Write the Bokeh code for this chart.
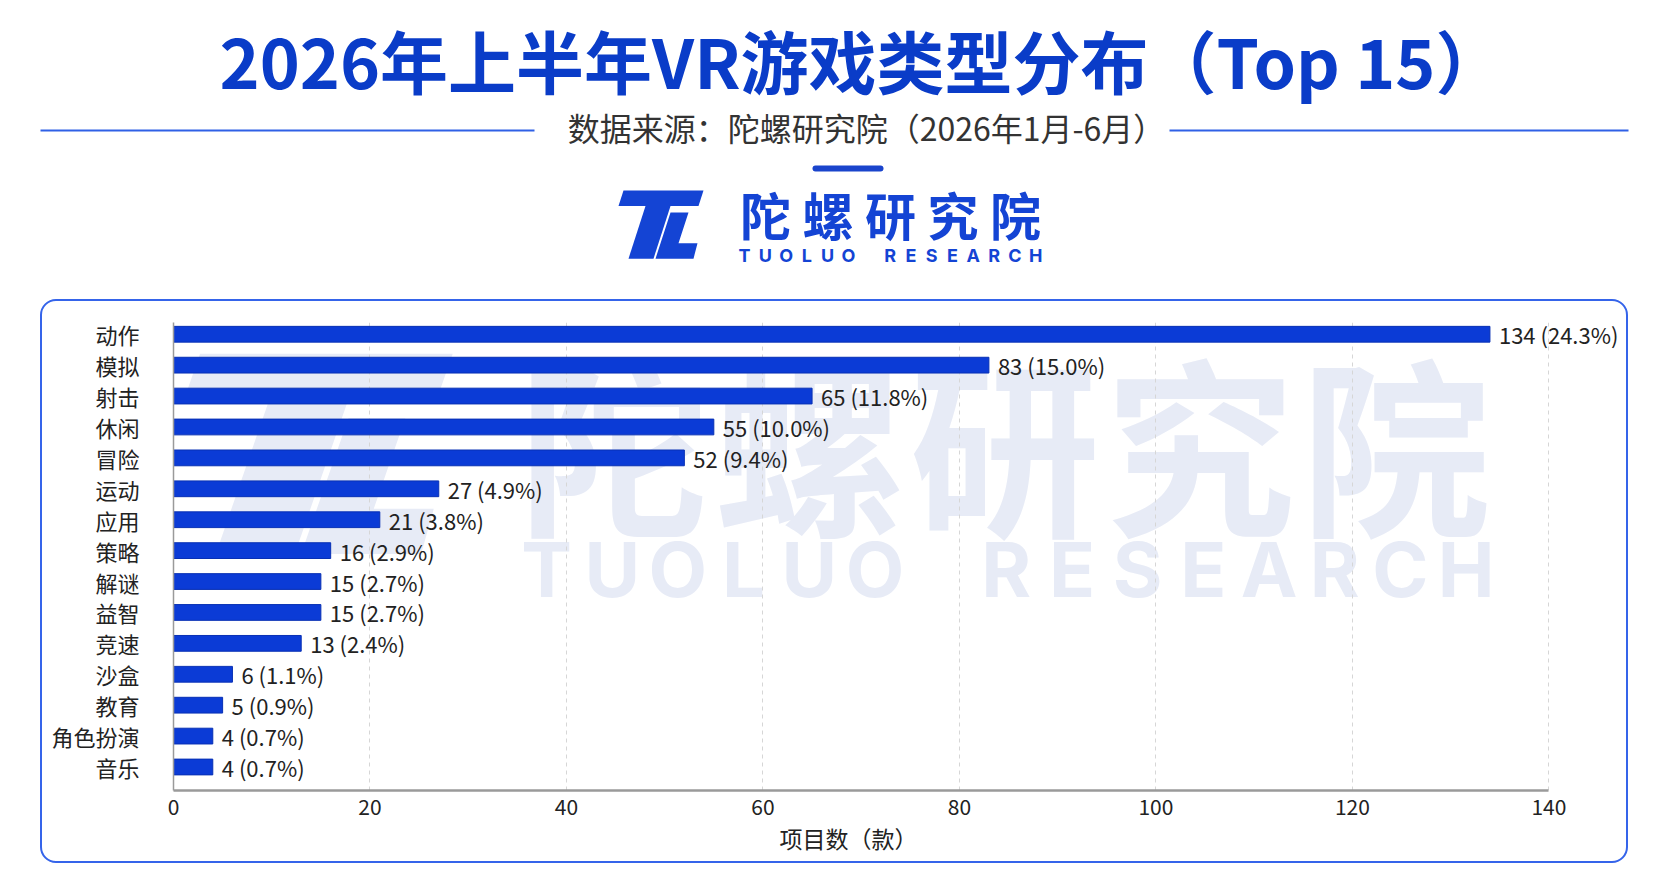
from bokeh.plotting import figure
from bokeh.models import Range1d, FixedTicker, ColumnDataSource, Spacer, Title
from bokeh.layouts import column, row
from bokeh.core.properties import value
from bokeh.embed import file_html
from bokeh.resources import INLINE

# ---------------- data ----------------
CATEGORIES = ["动作", "模拟", "射击", "休闲", "冒险", "运动", "应用", "策略",
              "解谜", "益智", "竞速", "沙盒", "教育", "角色扮演", "音乐"]
COUNTS = [134, 83, 65, 55, 52, 27, 21, 16, 15, 15, 13, 6, 5, 4, 4]
PCTS = [24.3, 15.0, 11.8, 10.0, 9.4, 4.9, 3.8, 2.9, 2.7, 2.7, 2.4, 1.1, 0.9, 0.7, 0.7]
X_TICKS = [0, 20, 40, 60, 80, 100, 120, 140]
TITLE = "2026年上半年VR游戏类型分布（Top 15）"
SUBTITLE = "数据来源：陀螺研究院（2026年1月-6月）"
X_LABEL = "项目数（款）"
BRAND_CN = "陀螺研究院"
BRAND_EN = "TUOLUO RESEARCH"

# ---------------- style ----------------
CJK = "Noto Sans CJK SC"
LATIN = "Inter"
TITLE_BLUE = "#0a3cc8"
BAR_BLUE = "#0b3bd6"
BAR_EDGE = "#0830b4"
LINE_BLUE = "#2f60e6"
LOGO_BLUE = "#1444d4"
WM = "#e7ebf6"
TXT = "#222222"

# decorative TL logo outline (unit shape, 83 x 62)
LOGO_SHAPE = [
    [(3, 0), (83, 0), (78, 14), (-2, 14)],
    [(25, 14), (50, 14), (33, 62), (8, 62)],
    [(50, 20), (68, 20), (58, 48), (77, 48), (73, 62), (35, 62)],
]


def logo_paths(ox, oy, sx, sy):
    xs = [[ox + px * sx for px, py in part] for part in LOGO_SHAPE]
    ys = [[oy + py * sy for px, py in part] for part in LOGO_SHAPE]
    return xs, ys


# ---------------- header (page pixel coordinates) ----------------
HW, HH = 1664, 299
hdr = figure(width=HW, height=HH, x_range=Range1d(0, HW), y_range=Range1d(HH, 0),
             x_axis_type=None, y_axis_type=None, toolbar_location=None,
             output_backend="svg", min_border=0, outline_line_color=None)
hdr.grid.visible = False

hdr.text(x=[861], y=[59], text=[TITLE], text_font=value(CJK), text_font_size=value("68px"),
         text_font_style="bold", text_color=TITLE_BLUE, text_align="center",
         text_baseline="middle")
hdr.text(x=[866], y=[126], text=[SUBTITLE], text_font=value(CJK), text_font_size=value("32px"),
         text_color="#333333", text_align="center", text_baseline="middle")
hdr.segment(x0=[40, 1169], y0=[130, 130], x1=[534, 1628], y1=[130, 130],
            line_color=LINE_BLUE, line_width=2)
hdr.segment(x0=[815], y0=[168], x1=[880], y1=[168], line_color="#1a44cc",
            line_width=6, line_cap="round")

lx, ly = logo_paths(620, 190, 1.0, 1.1)
hdr.patches(xs=lx, ys=ly, fill_color=LOGO_BLUE, line_color=None)
cn_x = [765 + i * 62.5 for i in range(len(BRAND_CN))]
hdr.text(x=cn_x, y=[213] * len(BRAND_CN), text=list(BRAND_CN), text_font=value(CJK),
         text_font_size=value("51px"), text_font_style="bold", text_color=LOGO_BLUE,
         text_align="center", text_baseline="middle")
en_x = [744 + i * 20.8 for i, ch in enumerate(BRAND_EN) if ch != " "]
en_t = [ch for ch in BRAND_EN if ch != " "]
hdr.text(x=en_x, y=[255] * len(en_t), text=en_t, text_font=value(LATIN),
         text_font_size=value("18px"), text_font_style="bold", text_color=LOGO_BLUE,
         text_align="center", text_baseline="middle")

# ---------------- chart ----------------
n = len(CATEGORIES)
ypos = [n - 1 - i for i in range(n)]
labels = [f"{c} ({p:.1f}%)" for c, p in zip(COUNTS, PCTS)]
src = ColumnDataSource(dict(y=ypos, count=COUNTS, label=labels))

FRAME_L, FRAME_R, FRAME_T, FRAME_B = 173, 1621, 322, 786  # page pixels
p = figure(width=1588, height=564, x_range=Range1d(0, 147.8), y_range=Range1d(-0.76, n - 1 + 0.38),
           toolbar_location=None, output_backend="svg",
           min_border_left=131, min_border_right=5, min_border_top=21, min_border_bottom=75,
           border_fill_color=None, outline_line_color=None,
           styles={"border": "2px solid #3564ea", "border-radius": "16px", "overflow": "hidden"})
p.extra_x_ranges = {"px": Range1d(FRAME_L, FRAME_R)}
p.extra_y_ranges = {"py": Range1d(FRAME_B, FRAME_T)}

# watermark
wx, wy = logo_paths(190, 353, 3.15, 3.2)
p.patches(xs=wx, ys=wy, fill_color=WM, line_color=None, x_range_name="px",
          y_range_name="py", level="image")
wm_cn_x = [612 + i * 195 for i in range(len(BRAND_CN))]
p.text(x=wm_cn_x, y=[438] * len(BRAND_CN), text=list(BRAND_CN), text_font=value(CJK),
       text_font_size=value("190px"), text_font_style="bold", text_color=WM,
       text_align="center", text_baseline="middle", x_range_name="px", y_range_name="py",
       level="image")
wm_en_x = [545 + i * 65.5 for i, ch in enumerate(BRAND_EN) if ch != " "]
p.text(x=wm_en_x, y=[566] * len(en_t), text=en_t, text_font=value(LATIN),
       text_font_size=value("76px"), text_font_style="bold", text_color=WM,
       text_align="center", text_baseline="middle", x_range_name="px", y_range_name="py",
       level="image")

p.hbar(y="y", left=0, right="count", height=0.51, source=src,
       fill_color=BAR_BLUE, line_color=BAR_EDGE, line_width=1)
p.text(x="count", y="y", text="label", source=src, x_offset=9,
       text_font=value(CJK), text_font_size=value("22px"), text_color=TXT,
       text_align="left", text_baseline="middle")

p.xaxis.ticker = FixedTicker(ticks=X_TICKS)
p.xaxis.bounds = (0, 140)
p.xaxis.major_label_text_font = CJK
p.xaxis.major_label_text_font_size = "21px"
p.xaxis.major_label_text_color = TXT
p.xaxis.major_label_standoff = 2
p.xaxis.axis_line_color = "#9a9a9a"
p.xaxis.axis_line_width = 2.5

xl = Title(text=X_LABEL, align="left", offset=606, standoff=2,
           text_font=CJK, text_font_size="23px", text_font_style="normal", text_color=TXT)
p.add_layout(xl, "below")

p.yaxis.ticker = FixedTicker(ticks=ypos)
p.yaxis.major_label_overrides = {y: c for y, c in zip(ypos, CATEGORIES)}
p.yaxis.major_label_text_font = CJK
p.yaxis.major_label_text_font_size = "22px"
p.yaxis.major_label_text_color = TXT
p.yaxis.major_label_standoff = 28
p.yaxis.axis_line_color = "#9a9a9a"
p.yaxis.axis_line_width = 1.5

for ax in (p.xaxis, p.yaxis):
    ax.major_tick_line_color = None
    ax.minor_tick_line_color = None

p.ygrid.visible = False
p.xgrid.grid_line_color = "#d6d6d6"
p.xgrid.grid_line_dash = "4 4"
p.xgrid.grid_line_width = 1

layout = column(hdr, row(Spacer(width=40, height=564), p))
open("out.html", "w").write(file_html(layout, INLINE))
